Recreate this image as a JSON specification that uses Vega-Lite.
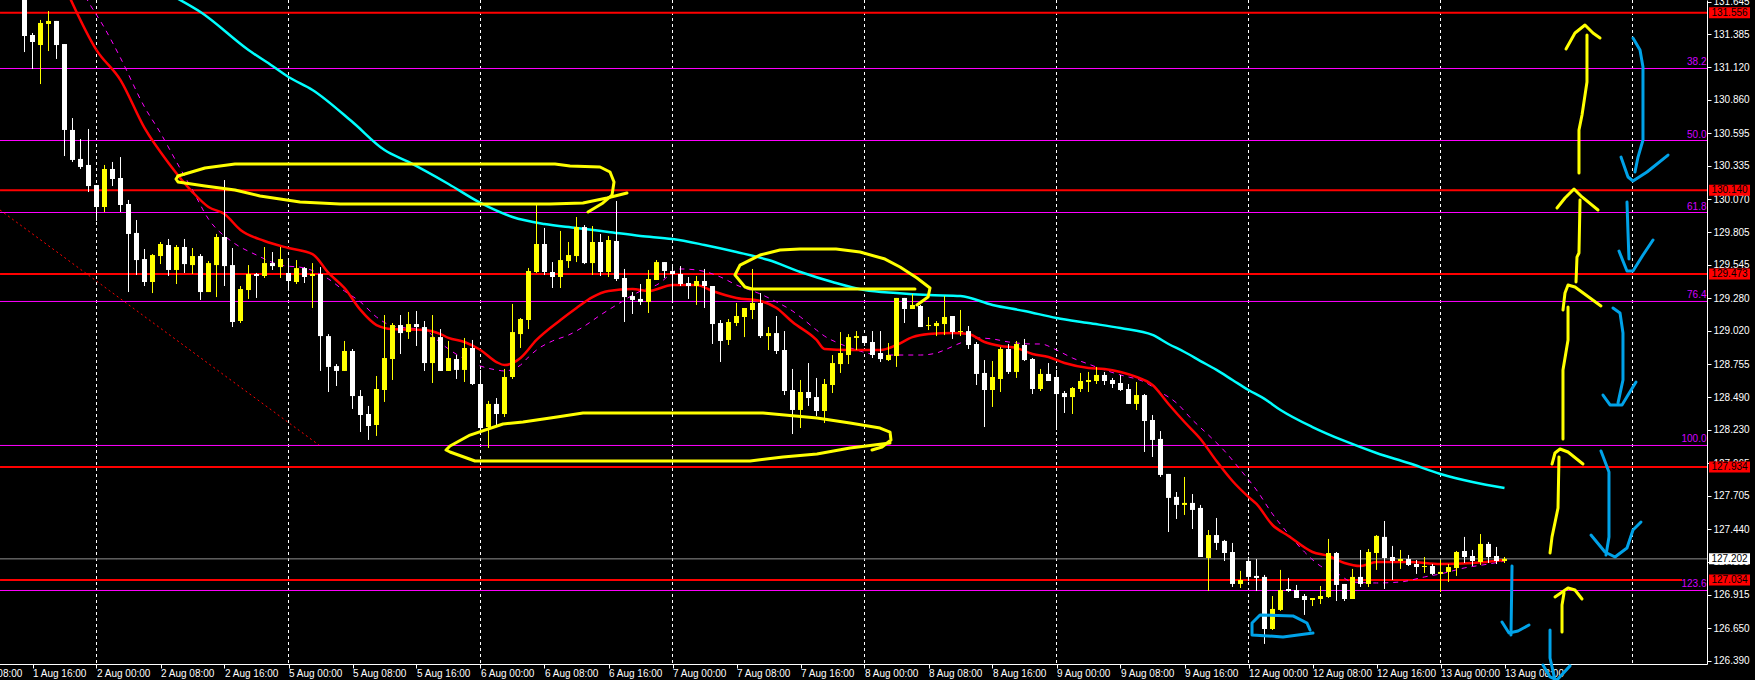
{"$schema":"https://vega.github.io/schema/vega-lite/v6.json","width":1707,"height":664,"autosize":{"type":"none"},"padding":{"left":0,"top":0,"right":48,"bottom":16},"background":"#000000","config":{"view":{"stroke":null},"text":{"font":"Liberation Sans"}},"resolve":{"axis":{"x":"independent","y":"independent"}},
"datasets":{
"candles":[
{"i":3,"o":131.816,"h":131.896,"l":131.242,"c":131.37},{"i":4,"o":131.378,"h":131.394,"l":131.107,"c":131.322},{"i":5,"o":131.298,"h":131.498,"l":130.987,"c":131.474},{"i":6,"o":131.466,"h":131.569,"l":131.25,"c":131.49},{"i":7,"o":131.49,"h":131.49,"l":131.187,"c":131.298},{"i":8,"o":131.306,"h":131.306,"l":130.413,"c":130.621},{"i":9,"o":130.621,"h":130.716,"l":130.366,"c":130.382},{"i":10,"o":130.39,"h":130.549,"l":130.31,"c":130.326},{"i":11,"o":130.342,"h":130.629,"l":130.126,"c":130.174},{"i":12,"o":130.182,"h":130.182,"l":129.895,"c":130.007},{"i":13,"o":130.007,"h":130.342,"l":129.967,"c":130.31},{"i":14,"o":130.31,"h":130.366,"l":130.174,"c":130.23},{"i":15,"o":130.238,"h":130.405,"l":129.967,"c":130.023},{"i":16,"o":130.031,"h":130.063,"l":129.329,"c":129.792},{"i":17,"o":129.8,"h":129.903,"l":129.465,"c":129.584},{"i":18,"o":129.592,"h":129.672,"l":129.377,"c":129.409},{"i":19,"o":129.409,"h":129.632,"l":129.321,"c":129.624},{"i":20,"o":129.616,"h":129.728,"l":129.552,"c":129.712},{"i":21,"o":129.704,"h":129.752,"l":129.457,"c":129.505},{"i":22,"o":129.505,"h":129.704,"l":129.393,"c":129.688},{"i":23,"o":129.688,"h":129.752,"l":129.481,"c":129.552},{"i":24,"o":129.544,"h":129.68,"l":129.473,"c":129.616},{"i":25,"o":129.616,"h":129.632,"l":129.266,"c":129.329},{"i":26,"o":129.329,"h":129.576,"l":129.329,"c":129.56},{"i":27,"o":129.544,"h":129.792,"l":129.289,"c":129.768},{"i":28,"o":129.768,"h":130.222,"l":129.377,"c":129.536},{"i":29,"o":129.544,"h":129.68,"l":129.05,"c":129.09},{"i":30,"o":129.098,"h":129.377,"l":129.082,"c":129.353},{"i":31,"o":129.345,"h":129.544,"l":129.274,"c":129.473},{"i":32,"o":129.473,"h":129.481,"l":129.282,"c":129.457},{"i":33,"o":129.457,"h":129.688,"l":129.441,"c":129.56},{"i":34,"o":129.56,"h":129.648,"l":129.505,"c":129.536},{"i":35,"o":129.528,"h":129.688,"l":129.441,"c":129.592},{"i":36,"o":129.481,"h":129.584,"l":129.361,"c":129.417},{"i":37,"o":129.409,"h":129.584,"l":129.393,"c":129.52},{"i":38,"o":129.52,"h":129.528,"l":129.401,"c":129.449},{"i":39,"o":129.457,"h":129.56,"l":129.202,"c":129.473},{"i":40,"o":129.473,"h":129.528,"l":128.7,"c":128.978},
{"i":41,"o":128.978,"h":128.994,"l":128.532,"c":128.732},{"i":42,"o":128.739,"h":128.755,"l":128.58,"c":128.7},{"i":43,"o":128.7,"h":128.939,"l":128.7,"c":128.859},{"i":44,"o":128.859,"h":128.875,"l":128.397,"c":128.5},{"i":45,"o":128.5,"h":128.548,"l":128.213,"c":128.349},{"i":46,"o":128.357,"h":128.421,"l":128.15,"c":128.261},{"i":47,"o":128.269,"h":128.66,"l":128.182,"c":128.556},{"i":48,"o":128.548,"h":129.146,"l":128.453,"c":128.803},{"i":49,"o":128.795,"h":129.082,"l":128.628,"c":129.066},{"i":50,"o":129.066,"h":129.146,"l":128.835,"c":129.002},{"i":51,"o":129.01,"h":129.17,"l":128.955,"c":129.074},{"i":52,"o":129.074,"h":129.178,"l":128.899,"c":129.05},{"i":53,"o":129.05,"h":129.098,"l":128.7,"c":128.763},{"i":54,"o":128.763,"h":129.146,"l":128.604,"c":128.97},{"i":55,"o":128.97,"h":129.034,"l":128.7,"c":128.7},{"i":56,"o":128.7,"h":128.939,"l":128.7,"c":128.803},{"i":57,"o":128.795,"h":128.827,"l":128.636,"c":128.708},{"i":58,"o":128.708,"h":128.963,"l":128.612,"c":128.883},{"i":59,"o":128.883,"h":128.947,"l":128.588,"c":128.596},{"i":60,"o":128.596,"h":128.708,"l":128.205,"c":128.245},{"i":61,"o":128.253,"h":128.461,"l":128.086,"c":128.437},{"i":62,"o":128.437,"h":128.484,"l":128.269,"c":128.357},{"i":63,"o":128.357,"h":128.716,"l":128.333,"c":128.652},{"i":64,"o":128.652,"h":129.234,"l":128.636,"c":129.01},{"i":65,"o":128.994,"h":129.122,"l":128.883,"c":129.114},{"i":66,"o":129.106,"h":129.521,"l":129.034,"c":129.497},{"i":67,"o":129.489,"h":130.039,"l":129.481,"c":129.712},{"i":68,"o":129.712,"h":129.84,"l":129.465,"c":129.489},{"i":69,"o":129.489,"h":129.568,"l":129.361,"c":129.449},{"i":70,"o":129.449,"h":129.816,"l":129.361,"c":129.584},{"i":71,"o":129.576,"h":129.728,"l":129.521,"c":129.624},{"i":72,"o":129.616,"h":129.927,"l":129.568,"c":129.847},{"i":73,"o":129.847,"h":129.863,"l":129.552,"c":129.56},{"i":74,"o":129.56,"h":129.855,"l":129.465,"c":129.728},{"i":75,"o":129.728,"h":129.792,"l":129.457,"c":129.489},{"i":76,"o":129.489,"h":129.776,"l":129.449,"c":129.744},{"i":77,"o":129.736,"h":130.055,"l":129.417,"c":129.433},{"i":78,"o":129.441,"h":129.513,"l":129.09,"c":129.289},{"i":79,"o":129.297,"h":129.329,"l":129.154,"c":129.266},{"i":80,"o":129.274,"h":129.393,"l":129.226,"c":129.25},
{"i":81,"o":129.25,"h":129.505,"l":129.162,"c":129.433},{"i":82,"o":129.425,"h":129.584,"l":129.425,"c":129.568},{"i":83,"o":129.568,"h":129.568,"l":129.441,"c":129.497},{"i":84,"o":129.497,"h":129.544,"l":129.25,"c":129.473},{"i":85,"o":129.473,"h":129.536,"l":129.377,"c":129.393},{"i":86,"o":129.401,"h":129.449,"l":129.274,"c":129.377},{"i":87,"o":129.377,"h":129.457,"l":129.226,"c":129.417},{"i":88,"o":129.417,"h":129.513,"l":129.202,"c":129.377},{"i":89,"o":129.377,"h":129.377,"l":128.915,"c":129.074},{"i":90,"o":129.082,"h":129.106,"l":128.771,"c":128.939},{"i":91,"o":128.947,"h":129.114,"l":128.907,"c":129.09},{"i":92,"o":129.082,"h":129.242,"l":129.058,"c":129.138},{"i":93,"o":129.13,"h":129.202,"l":128.97,"c":129.202},{"i":94,"o":129.186,"h":129.513,"l":129.114,"c":129.242},{"i":95,"o":129.242,"h":129.321,"l":128.963,"c":128.978},{"i":96,"o":128.978,"h":129.05,"l":128.867,"c":129.002},{"i":97,"o":129.002,"h":129.138,"l":128.835,"c":128.859},{"i":98,"o":128.867,"h":129.018,"l":128.508,"c":128.54},{"i":99,"o":128.548,"h":128.716,"l":128.197,"c":128.389},{"i":100,"o":128.389,"h":128.628,"l":128.245,"c":128.532},{"i":101,"o":128.532,"h":128.763,"l":128.421,"c":128.484},{"i":102,"o":128.492,"h":128.644,"l":128.341,"c":128.381},{"i":103,"o":128.381,"h":128.636,"l":128.285,"c":128.596},{"i":104,"o":128.588,"h":128.827,"l":128.524,"c":128.763},{"i":105,"o":128.755,"h":129.01,"l":128.684,"c":128.843},{"i":106,"o":128.827,"h":128.994,"l":128.755,"c":128.97},{"i":107,"o":128.963,"h":129.018,"l":128.867,"c":128.978},{"i":108,"o":128.978,"h":128.978,"l":128.899,"c":128.923},{"i":109,"o":128.931,"h":129.018,"l":128.803,"c":128.827},{"i":110,"o":128.843,"h":129.018,"l":128.771,"c":128.795},{"i":111,"o":128.787,"h":128.923,"l":128.779,"c":128.827},{"i":112,"o":128.819,"h":129.282,"l":128.732,"c":129.282},{"i":113,"o":129.282,"h":129.282,"l":129.082,"c":129.194},{"i":114,"o":129.194,"h":129.313,"l":129.194,"c":129.226},{"i":115,"o":129.218,"h":129.226,"l":129.05,"c":129.05},{"i":116,"o":129.058,"h":129.13,"l":129.026,"c":129.066},{"i":117,"o":129.058,"h":129.098,"l":128.978,"c":129.082},{"i":118,"o":129.074,"h":129.297,"l":128.986,"c":129.13},{"i":119,"o":129.138,"h":129.138,"l":128.955,"c":129.01},{"i":120,"o":129.01,"h":129.186,"l":128.978,"c":129.018},
{"i":121,"o":129.018,"h":129.058,"l":128.875,"c":128.907},{"i":122,"o":128.915,"h":128.931,"l":128.588,"c":128.676},{"i":123,"o":128.684,"h":128.787,"l":128.253,"c":128.548},{"i":124,"o":128.548,"h":128.779,"l":128.413,"c":128.652},{"i":125,"o":128.636,"h":128.891,"l":128.532,"c":128.875},{"i":126,"o":128.875,"h":128.915,"l":128.676,"c":128.692},{"i":127,"o":128.692,"h":128.939,"l":128.644,"c":128.915},{"i":128,"o":128.907,"h":128.955,"l":128.779,"c":128.787},{"i":129,"o":128.795,"h":128.803,"l":128.516,"c":128.556},{"i":130,"o":128.556,"h":128.716,"l":128.54,"c":128.676},{"i":131,"o":128.676,"h":128.763,"l":128.62,"c":128.62},{"i":132,"o":128.652,"h":128.708,"l":128.229,"c":128.516},{"i":133,"o":128.524,"h":128.54,"l":128.365,"c":128.492},{"i":134,"o":128.492,"h":128.572,"l":128.357,"c":128.564},{"i":135,"o":128.556,"h":128.684,"l":128.532,"c":128.62},{"i":136,"o":128.612,"h":128.692,"l":128.532,"c":128.628},{"i":137,"o":128.62,"h":128.732,"l":128.596,"c":128.668},{"i":138,"o":128.668,"h":128.692,"l":128.588,"c":128.62},{"i":139,"o":128.628,"h":128.644,"l":128.564,"c":128.596},{"i":140,"o":128.604,"h":128.668,"l":128.54,"c":128.548},{"i":141,"o":128.556,"h":128.596,"l":128.437,"c":128.437},{"i":142,"o":128.437,"h":128.612,"l":128.389,"c":128.508},{"i":143,"o":128.508,"h":128.516,"l":128.054,"c":128.301},{"i":144,"o":128.309,"h":128.349,"l":128.014,"c":128.15},{"i":145,"o":128.158,"h":128.221,"l":127.855,"c":127.871},{"i":146,"o":127.879,"h":127.879,"l":127.416,"c":127.688},{"i":147,"o":127.696,"h":127.735,"l":127.52,"c":127.632},{"i":148,"o":127.632,"h":127.855,"l":127.552,"c":127.648},{"i":149,"o":127.648,"h":127.719,"l":127.44,"c":127.592},{"i":150,"o":127.608,"h":127.632,"l":127.217,"c":127.217},{"i":151,"o":127.209,"h":127.432,"l":126.946,"c":127.392},{"i":152,"o":127.392,"h":127.528,"l":127.273,"c":127.329},{"i":153,"o":127.345,"h":127.353,"l":127.185,"c":127.249},{"i":154,"o":127.257,"h":127.329,"l":126.978,"c":127.002},{"i":155,"o":127.002,"h":127.106,"l":126.97,"c":127.034},{"i":156,"o":127.185,"h":127.217,"l":127.026,"c":127.058},{"i":157,"o":127.066,"h":127.201,"l":126.946,"c":127.05},{"i":158,"o":127.058,"h":127.074,"l":126.524,"c":126.643},{"i":159,"o":126.643,"h":126.906,"l":126.635,"c":126.803},{"i":160,"o":126.795,"h":127.114,"l":126.787,"c":126.954},
{"i":161,"o":126.962,"h":127.05,"l":126.938,"c":126.946},{"i":162,"o":126.954,"h":126.994,"l":126.89,"c":126.89},{"i":163,"o":126.906,"h":126.922,"l":126.755,"c":126.874},{"i":164,"o":126.874,"h":126.89,"l":126.826,"c":126.89},{"i":165,"o":126.882,"h":126.986,"l":126.842,"c":126.906},{"i":166,"o":126.898,"h":127.361,"l":126.89,"c":127.249},{"i":167,"o":127.249,"h":127.257,"l":126.866,"c":126.994},{"i":168,"o":127.002,"h":127.002,"l":126.866,"c":126.882},{"i":169,"o":126.882,"h":127.122,"l":126.882,"c":127.058},{"i":170,"o":127.058,"h":127.273,"l":126.978,"c":127.002},{"i":171,"o":127.002,"h":127.281,"l":126.978,"c":127.257},{"i":172,"o":127.249,"h":127.392,"l":127.114,"c":127.385},{"i":173,"o":127.377,"h":127.504,"l":126.962,"c":127.209},{"i":174,"o":127.217,"h":127.305,"l":127.034,"c":127.185},{"i":175,"o":127.185,"h":127.273,"l":127.122,"c":127.201},{"i":176,"o":127.201,"h":127.233,"l":127.145,"c":127.153},{"i":177,"o":127.161,"h":127.193,"l":127.082,"c":127.137},{"i":178,"o":127.137,"h":127.217,"l":127.09,"c":127.145},{"i":179,"o":127.145,"h":127.161,"l":127.074,"c":127.082},{"i":180,"o":127.082,"h":127.193,"l":126.938,"c":127.098},{"i":181,"o":127.098,"h":127.161,"l":127.018,"c":127.137},{"i":182,"o":127.129,"h":127.265,"l":127.066,"c":127.257},{"i":183,"o":127.265,"h":127.377,"l":127.169,"c":127.217},{"i":184,"o":127.225,"h":127.273,"l":127.145,"c":127.185},{"i":185,"o":127.177,"h":127.4,"l":127.153,"c":127.321},{"i":186,"o":127.321,"h":127.337,"l":127.169,"c":127.217},{"i":187,"o":127.225,"h":127.297,"l":127.161,"c":127.185},{"i":188,"o":127.185,"h":127.217,"l":127.169,"c":127.202}],
"cyanMA":[{"i":22,"v":131.673},{"i":25,"v":131.561},{"i":31,"v":131.258},{"i":34,"v":131.131},{"i":36,"v":131.043},{"i":39,"v":130.94},{"i":44,"v":130.684},{"i":48,"v":130.461},{"i":51,"v":130.366},{"i":56,"v":130.19},{"i":60,"v":130.039},{"i":64,"v":129.927},{"i":68,"v":129.871},{"i":72,"v":129.84},{"i":76,"v":129.808},{"i":80,"v":129.776},{"i":84,"v":129.752},{"i":88,"v":129.704},{"i":92,"v":129.648},{"i":96,"v":129.584},{"i":100,"v":129.489},{"i":104,"v":129.409},{"i":108,"v":129.345},{"i":112,"v":129.321},{"i":116,"v":129.305},{"i":120,"v":129.297},{"i":124,"v":129.226},{"i":128,"v":129.178},{"i":132,"v":129.122},{"i":136,"v":129.082},{"i":140,"v":129.042},{"i":144,"v":128.987},{"i":146,"v":128.915},{"i":148,"v":128.851},{"i":150,"v":128.779},{"i":152,"v":128.708},{"i":154,"v":128.628},{"i":156,"v":128.548},{"i":158,"v":128.477},{"i":160,"v":128.389},{"i":164,"v":128.253},{"i":168,"v":128.142},{"i":172,"v":128.046},{"i":176,"v":127.966},{"i":180,"v":127.879},{"i":184,"v":127.815},{"i":188,"v":127.767}],
"redMA":[{"i":8,"v":131.769},{"i":12,"v":131.258},{"i":15,"v":131.019},{"i":18,"v":130.637},{"i":21,"v":130.358},{"i":24,"v":130.126},{"i":26,"v":130.007},{"i":28,"v":129.951},{"i":30,"v":129.824},{"i":33,"v":129.736},{"i":36,"v":129.68},{"i":39,"v":129.632},{"i":41,"v":129.481},{"i":43,"v":129.361},{"i":45,"v":129.186},{"i":47,"v":129.066},{"i":49,"v":129.034},{"i":53,"v":129.026},{"i":55,"v":128.994},{"i":56,"v":128.963},{"i":58,"v":128.931},{"i":60,"v":128.867},{"i":62,"v":128.771},{"i":63,"v":128.747},{"i":65,"v":128.803},{"i":67,"v":128.947},{"i":70,"v":129.106},{"i":72,"v":129.202},{"i":74,"v":129.289},{"i":76,"v":129.337},{"i":79,"v":129.353},{"i":81,"v":129.337},{"i":84,"v":129.385},{"i":87,"v":129.385},{"i":89,"v":129.337},{"i":92,"v":129.282},{"i":95,"v":129.258},{"i":97,"v":129.202},{"i":99,"v":129.09},{"i":102,"v":128.947},{"i":103,"v":128.875},{"i":106,"v":128.867},{"i":110,"v":128.867},{"i":112,"v":128.907},{"i":114,"v":128.97},{"i":116,"v":128.994},{"i":119,"v":129.002},{"i":121,"v":128.994},{"i":123,"v":128.931},{"i":125,"v":128.899},{"i":127,"v":128.883},{"i":129,"v":128.835},{"i":131,"v":128.811},{"i":133,"v":128.763},{"i":136,"v":128.724},{"i":138,"v":128.716},{"i":140,"v":128.692},{"i":142,"v":128.652},{"i":144,"v":128.588},{"i":146,"v":128.437},{"i":148,"v":128.293},{"i":150,"v":128.158},{"i":152,"v":127.982},{"i":154,"v":127.823},{"i":156,"v":127.696},{"i":157,"v":127.64},{"i":159,"v":127.472},{"i":161,"v":127.385},{"i":164,"v":127.257},{"i":166,"v":127.225},{"i":168,"v":127.169},{"i":170,"v":127.145},{"i":172,"v":127.177},{"i":176,"v":127.177},{"i":180,"v":127.161},{"i":184,"v":127.169},{"i":188,"v":127.193}],
"magentaMA":[{"i":10,"v":131.753},{"i":11,"v":131.641},{"i":13,"v":131.434},{"i":15,"v":131.195},{"i":18,"v":130.804},{"i":20,"v":130.597},{"i":22,"v":130.366},{"i":24,"v":130.142},{"i":26,"v":129.911},{"i":29,"v":129.728},{"i":32,"v":129.624},{"i":35,"v":129.544},{"i":38,"v":129.521},{"i":41,"v":129.433},{"i":43,"v":129.337},{"i":45,"v":129.25},{"i":47,"v":129.13},{"i":49,"v":129.058},{"i":53,"v":129.026},{"i":55,"v":128.923},{"i":56,"v":128.875},{"i":60,"v":128.739},{"i":62,"v":128.708},{"i":63,"v":128.7},{"i":65,"v":128.747},{"i":66,"v":128.811},{"i":67,"v":128.867},{"i":69,"v":128.939},{"i":71,"v":128.986},{"i":73,"v":129.058},{"i":75,"v":129.146},{"i":77,"v":129.226},{"i":80,"v":129.337},{"i":82,"v":129.385},{"i":85,"v":129.513},{"i":87,"v":129.505},{"i":90,"v":129.449},{"i":92,"v":129.385},{"i":95,"v":129.313},{"i":97,"v":129.25},{"i":99,"v":129.178},{"i":100,"v":129.13},{"i":102,"v":129.026},{"i":103,"v":128.978},{"i":105,"v":128.915},{"i":107,"v":128.867},{"i":110,"v":128.827},{"i":113,"v":128.827},{"i":115,"v":128.827},{"i":117,"v":128.843},{"i":118,"v":128.867},{"i":120,"v":128.923},{"i":122,"v":128.963},{"i":124,"v":128.955},{"i":126,"v":128.931},{"i":129,"v":128.915},{"i":130,"v":128.915},{"i":132,"v":128.867},{"i":134,"v":128.803},{"i":136,"v":128.755},{"i":138,"v":128.708},{"i":140,"v":128.668},{"i":143,"v":128.612},{"i":145,"v":128.532},{"i":147,"v":128.445},{"i":149,"v":128.309},{"i":151,"v":128.189},{"i":153,"v":128.062},{"i":155,"v":127.911},{"i":157,"v":127.751},{"i":159,"v":127.56},{"i":161,"v":127.4},{"i":163,"v":127.257},{"i":165,"v":127.145},{"i":167,"v":127.09},{"i":169,"v":127.018},{"i":172,"v":127.01},{"i":175,"v":127.018},{"i":178,"v":127.058},{"i":180,"v":127.082},{"i":183,"v":127.13},{"i":186,"v":127.161},{"i":188,"v":127.185}],
"grid":[{"i":12},{"i":36},{"i":60},{"i":84},{"i":108},{"i":132},{"i":156},{"i":180},{"i":204}],
"fib":[{"pct":"38.2","p":131.111},{"pct":"50.0","p":130.537},{"pct":"61.8","p":129.963},{"pct":"76.4","p":129.254},{"pct":"100.0","p":128.106},{"pct":"123.6","p":126.95}],
"levels":[{"p":131.556,"start":-0.06,"end":213.3125},{"p":130.14,"start":-0.06,"end":213.3125},{"p":129.473,"start":-0.06,"end":213.3125},{"p":127.934,"start":-0.06,"end":213.3125},{"p":127.034,"start":-0.06,"end":210.2}],
"trend":[{"i":-0.06,"v":129.983},{"i":39.8,"v":128.11}],
"yellowInk":[
{"s":"E1a","i":22.19,"p":130.254},{"s":"E1a","i":25.56,"p":130.318},{"s":"E1a","i":29.31,"p":130.35},{"s":"E1a","i":42.44,"p":130.35},{"s":"E1a","i":56.19,"p":130.35},{"s":"E1a","i":69.31,"p":130.35},{"s":"E1a","i":71.19,"p":130.334},{"s":"E1a","i":74.94,"p":130.326},{"s":"E1a","i":76.19,"p":130.286},{"s":"E1a","i":76.69,"p":130.206},{"s":"E1a","i":76.44,"p":130.102},{"s":"E1a","i":75.31,"p":130.039},{"s":"E1a","i":73.44,"p":129.967},
{"s":"E1b","i":78.31,"p":130.118},{"s":"E1b","i":75.81,"p":130.079},{"s":"E1b","i":72.81,"p":130.039},{"s":"E1b","i":68.69,"p":130.031},{"s":"E1b","i":56.19,"p":130.031},{"s":"E1b","i":42.44,"p":130.031},{"s":"E1b","i":37.44,"p":130.047},{"s":"E1b","i":32.44,"p":130.095},{"s":"E1b","i":29.31,"p":130.142},{"s":"E1b","i":25.56,"p":130.174},{"s":"E1b","i":22.19,"p":130.206},{"s":"E1b","i":21.94,"p":130.23},{"s":"E1b","i":22.19,"p":130.254},
{"s":"E2","i":114.56,"p":129.226},{"s":"E2","i":115.94,"p":129.289},{"s":"E2","i":116.19,"p":129.361},{"s":"E2","i":114.56,"p":129.441},{"s":"E2","i":112.44,"p":129.529},{"s":"E2","i":110.56,"p":129.592},{"s":"E2","i":107.44,"p":129.648},{"s":"E2","i":104.44,"p":129.672},{"s":"E2","i":99.94,"p":129.672},{"s":"E2","i":97.44,"p":129.664},{"s":"E2","i":94.94,"p":129.624},{"s":"E2","i":92.44,"p":129.544},{"s":"E2","i":91.81,"p":129.465},{"s":"E2","i":93.06,"p":129.369},{"s":"E2","i":93.94,"p":129.353},{"s":"E2","i":114.31,"p":129.353},
{"s":"E3","i":111.19,"p":128.126},{"s":"E3","i":106.19,"p":128.086},{"s":"E3","i":102.06,"p":128.038},{"s":"E3","i":97.81,"p":128.014},{"s":"E3","i":93.69,"p":127.982},{"s":"E3","i":59.31,"p":127.982},{"s":"E3","i":56.19,"p":128.054},{"s":"E3","i":55.69,"p":128.07},{"s":"E3","i":56.19,"p":128.102},{"s":"E3","i":58.69,"p":128.189},{"s":"E3","i":62.81,"p":128.277},{"s":"E3","i":65.31,"p":128.293},{"s":"E3","i":69.56,"p":128.333},{"s":"E3","i":72.81,"p":128.365},{"s":"E3","i":95.31,"p":128.365},{"s":"E3","i":102.06,"p":128.325},{"s":"E3","i":106.19,"p":128.285},{"s":"E3","i":109.94,"p":128.245},{"s":"E3","i":111.19,"p":128.213},{"s":"E3","i":111.31,"p":128.15},{"s":"E3","i":110.19,"p":128.094},{"s":"E3","i":108.94,"p":128.07},
{"s":"A1s","i":197.31,"p":130.278},{"s":"A1s","i":197.31,"p":130.621},{"s":"A1s","i":197.69,"p":130.74},{"s":"A1s","i":198.31,"p":131.003},{"s":"A1s","i":198.31,"p":131.378},
{"s":"A1h","i":195.69,"p":131.266},{"s":"A1h","i":196.81,"p":131.394},{"s":"A1h","i":198.06,"p":131.458},{"s":"A1h","i":199.06,"p":131.394},{"s":"A1h","i":199.94,"p":131.354},
{"s":"A2s","i":197.44,"p":130.063},{"s":"A2s","i":197.31,"p":129.64},{"s":"A2s","i":197.06,"p":129.608},{"s":"A2s","i":196.94,"p":129.409},
{"s":"A2h","i":194.56,"p":129.999},{"s":"A2h","i":195.56,"p":130.079},{"s":"A2h","i":196.69,"p":130.15},{"s":"A2h","i":197.69,"p":130.087},{"s":"A2h","i":199.69,"p":129.983},
{"s":"A3s","i":195.94,"p":129.21},{"s":"A3s","i":195.94,"p":128.947},{"s":"A3s","i":195.31,"p":128.708},{"s":"A3s","i":195.31,"p":128.158},
{"s":"A3h","i":195.31,"p":129.186},{"s":"A3h","i":195.56,"p":129.321},{"s":"A3h","i":195.94,"p":129.385},{"s":"A3h","i":196.81,"p":129.369},{"s":"A3h","i":198.69,"p":129.282},{"s":"A3h","i":200.06,"p":129.218},
{"s":"A4s","i":194.81,"p":128.014},{"s":"A4s","i":194.69,"p":127.608},{"s":"A4s","i":193.94,"p":127.377},{"s":"A4s","i":193.69,"p":127.249},
{"s":"A4h","i":193.94,"p":127.958},{"s":"A4h","i":194.31,"p":128.046},{"s":"A4h","i":194.94,"p":128.078},{"s":"A4h","i":195.94,"p":128.054},{"s":"A4h","i":197.81,"p":127.958},
{"s":"A5s","i":195.19,"p":126.619},{"s":"A5s","i":195.19,"p":126.834},{"s":"A5s","i":195.44,"p":126.93},
{"s":"A5h","i":194.31,"p":126.898},{"s":"A5h","i":195.94,"p":126.97},{"s":"A5h","i":196.81,"p":126.954},{"s":"A5h","i":197.69,"p":126.882}],
"blueInk":[
{"s":"B1s","i":204.06,"p":131.354},{"s":"B1s","i":204.94,"p":131.258},{"s":"B1s","i":205.31,"p":131.123},{"s":"B1s","i":205.31,"p":130.541},{"s":"B1s","i":204.69,"p":130.405},{"s":"B1s","i":204.31,"p":130.286},
{"s":"B1h","i":202.56,"p":130.405},{"s":"B1h","i":203.44,"p":130.246},{"s":"B1h","i":204.06,"p":130.214},{"s":"B1h","i":205.81,"p":130.286},{"s":"B1h","i":208.44,"p":130.421},
{"s":"B2s","i":203.31,"p":130.047},{"s":"B2s","i":203.44,"p":129.8},{"s":"B2s","i":203.56,"p":129.592},
{"s":"B2h","i":202.31,"p":129.656},{"s":"B2h","i":203.31,"p":129.497},{"s":"B2h","i":204.06,"p":129.497},{"s":"B2h","i":205.31,"p":129.624},{"s":"B2h","i":206.56,"p":129.744},
{"s":"B3s","i":201.56,"p":129.202},{"s":"B3s","i":202.44,"p":129.162},{"s":"B3s","i":202.81,"p":129.002},{"s":"B3s","i":202.81,"p":128.628},{"s":"B3s","i":202.19,"p":128.445},
{"s":"B3h","i":200.31,"p":128.508},{"s":"B3h","i":201.19,"p":128.429},{"s":"B3h","i":202.69,"p":128.429},{"s":"B3h","i":203.44,"p":128.508},{"s":"B3h","i":204.44,"p":128.612},
{"s":"B4s","i":200.06,"p":128.062},{"s":"B4s","i":201.06,"p":127.895},{"s":"B4s","i":201.06,"p":127.377},{"s":"B4s","i":200.69,"p":127.233},
{"s":"B4h","i":198.81,"p":127.392},{"s":"B4h","i":200.56,"p":127.257},{"s":"B4h","i":201.81,"p":127.217},{"s":"B4h","i":203.31,"p":127.289},{"s":"B4h","i":204.06,"p":127.432},{"s":"B4h","i":205.06,"p":127.496},
{"s":"B5s","i":188.94,"p":127.145},{"s":"B5s","i":188.81,"p":126.595},
{"s":"B5h","i":187.69,"p":126.699},{"s":"B5h","i":188.56,"p":126.611},{"s":"B5h","i":189.69,"p":126.627},{"s":"B5h","i":191.06,"p":126.675},
{"s":"B6s","i":193.69,"p":126.635},{"s":"B6s","i":193.69,"p":126.412},{"s":"B6s","i":194.31,"p":126.237},
{"s":"B6h","i":192.81,"p":126.356},{"s":"B6h","i":193.69,"p":126.261},{"s":"B6h","i":194.56,"p":126.237},{"s":"B6h","i":196.19,"p":126.349},
{"s":"B7","i":163.69,"p":126.635},{"s":"B7","i":163.31,"p":126.691},{"s":"B7","i":161.56,"p":126.747},{"s":"B7","i":157.44,"p":126.755},{"s":"B7","i":156.44,"p":126.691},{"s":"B7","i":156.44,"p":126.596},{"s":"B7","i":160.31,"p":126.58},{"s":"B7","i":164.06,"p":126.611}],
"redTags":[{"p":131.556,"t":"131.556"},{"p":130.14,"t":"130.140"},{"p":129.473,"t":"129.473"},{"p":127.934,"t":"127.934"},{"p":127.034,"t":"127.034"}],
"whiteTag":[{"p":127.202,"t":"127.202"}]
},
"layer":[
{"data":{"name":"grid"},"mark":{"type":"rule","color":"#ffffff","strokeWidth":1,"strokeDash":[3,3]},"encoding":{"x":{"field":"i","type":"quantitative","scale":{"domain":[-4,213.3125],"range":[-31.5,1707],"nice":false,"zero":false},"axis":{"title":null,"orient":"bottom","values":[-4,4,12,20,28,36,44,52,60,68,76,84,92,100,108,116,124,132,140,148,156,164,172,180,188],"labelExpr":"['1 Aug 08:00','1 Aug 16:00','2 Aug 00:00','2 Aug 08:00','2 Aug 16:00','5 Aug 00:00','5 Aug 08:00','5 Aug 16:00','6 Aug 00:00','6 Aug 08:00','6 Aug 16:00','7 Aug 00:00','7 Aug 08:00','7 Aug 16:00','8 Aug 00:00','8 Aug 08:00','8 Aug 16:00','9 Aug 00:00','9 Aug 08:00','9 Aug 16:00','12 Aug 00:00','12 Aug 08:00','12 Aug 16:00','13 Aug 00:00','13 Aug 08:00'][(datum.value+4)/8]","labelAlign":"left","labelBaseline":"top","labelPadding":0,"labelBound":false,"labelFlush":false,"labelOverlap":false,"labelColor":"#ffffff","labelFont":"Liberation Sans","labelFontSize":10,"tickColor":"#ffffff","tickSize":4,"domainColor":"#ffffff","grid":false}}}},
{"data":{"name":"fib"},"mark":{"type":"rule","color":"#ff00ff","strokeWidth":1},"encoding":{"y":{"field":"p","type":"quantitative","scale":{"domain":[126.364,131.657],"nice":false,"zero":false},"axis":{"title":null,"orient":"right","values":[131.645,131.385,131.12,130.86,130.595,130.335,130.07,129.805,129.545,129.28,129.02,128.755,128.49,128.23,127.965,127.705,127.44,127.18,126.915,126.65,126.39],"format":".3f","labelPadding":2,"labelBound":false,"labelFlush":false,"labelOverlap":false,"labelColor":"#ffffff","labelFont":"Liberation Sans","labelFontSize":10,"tickColor":"#ffffff","tickSize":4,"domainColor":"#ffffff","grid":false}}}},
{"data":{"name":"trend"},"mark":{"type":"line","color":"#ff0000","strokeWidth":1,"strokeDash":[2,3]},"encoding":{"x":{"field":"i","type":"quantitative","axis":null},"y":{"field":"v","type":"quantitative","axis":null}}},
{"data":{"name":"whiteTag"},"mark":{"type":"rule","color":"#909090","strokeWidth":1},"encoding":{"y":{"field":"p","type":"quantitative","axis":null}}},
{"data":{"name":"levels"},"mark":{"type":"rule","color":"#ff0000","strokeWidth":2},"encoding":{"y":{"field":"p","type":"quantitative","axis":null},"x":{"field":"start","type":"quantitative","axis":null},"x2":{"field":"end"}}},
{"data":{"name":"cyanMA"},"mark":{"type":"line","color":"#00ffff","strokeWidth":2.5,"clip":true,"interpolate":"monotone"},"encoding":{"x":{"field":"i","type":"quantitative","axis":null},"y":{"field":"v","type":"quantitative","axis":null}}},
{"data":{"name":"magentaMA"},"mark":{"type":"line","color":"#ff00ff","strokeWidth":1,"strokeDash":[5,5],"clip":true,"interpolate":"monotone"},"encoding":{"x":{"field":"i","type":"quantitative","axis":null},"y":{"field":"v","type":"quantitative","axis":null}}},
{"data":{"name":"redMA"},"mark":{"type":"line","color":"#ff0000","strokeWidth":2.5,"clip":true,"interpolate":"monotone"},"encoding":{"x":{"field":"i","type":"quantitative","axis":null},"y":{"field":"v","type":"quantitative","axis":null}}},
{"data":{"name":"candles"},"mark":{"type":"rule","strokeWidth":1,"clip":true},"encoding":{"x":{"field":"i","type":"quantitative","axis":null},"y":{"field":"h","type":"quantitative","axis":null},"y2":{"field":"l"},"color":{"condition":{"test":"datum.c>=datum.o","value":"#ffff00"},"value":"#ffffff"}}},
{"data":{"name":"candles"},"mark":{"type":"rule","strokeWidth":5,"clip":true},"encoding":{"x":{"field":"i","type":"quantitative","axis":null},"y":{"field":"o","type":"quantitative","axis":null},"y2":{"field":"c"},"color":{"condition":{"test":"datum.c>=datum.o","value":"#ffff00"},"value":"#ffffff"}}},
{"data":{"name":"fib"},"mark":{"type":"text","color":"#d400ff","align":"right","baseline":"middle","dy":-6,"fontSize":10,"font":"Liberation Sans"},"encoding":{"x":{"datum":213.25,"type":"quantitative","axis":null},"y":{"field":"p","type":"quantitative","axis":null},"text":{"field":"pct"}}},
{"data":{"name":"redTags"},"mark":{"type":"rect","color":"#ff0000","width":41,"height":11},"encoding":{"x":{"datum":216.125,"type":"quantitative","axis":null},"y":{"field":"p","type":"quantitative","axis":null}}},
{"data":{"name":"whiteTag"},"mark":{"type":"rect","color":"#ffffff","width":41,"height":11},"encoding":{"x":{"datum":216.125,"type":"quantitative","axis":null},"y":{"field":"p","type":"quantitative","axis":null}}},
{"data":{"name":"redTags"},"mark":{"type":"text","color":"#000000","align":"center","baseline":"middle","fontSize":10,"font":"Liberation Sans"},"encoding":{"x":{"datum":216.125,"type":"quantitative","axis":null},"y":{"field":"p","type":"quantitative","axis":null},"text":{"field":"t"}}},
{"data":{"name":"whiteTag"},"mark":{"type":"text","color":"#000000","align":"center","baseline":"middle","fontSize":10,"font":"Liberation Sans"},"encoding":{"x":{"datum":216.125,"type":"quantitative","axis":null},"y":{"field":"p","type":"quantitative","axis":null},"text":{"field":"t"}}},
{"data":{"name":"yellowInk"},"mark":{"type":"line","color":"#ffff00","strokeWidth":3,"strokeCap":"round","strokeJoin":"round"},"encoding":{"x":{"field":"i","type":"quantitative","axis":null},"y":{"field":"p","type":"quantitative","axis":null},"detail":{"field":"s"},"order":{"value":null}}},
{"data":{"name":"blueInk"},"mark":{"type":"line","color":"#00a2e8","strokeWidth":3,"strokeCap":"round","strokeJoin":"round"},"encoding":{"x":{"field":"i","type":"quantitative","axis":null},"y":{"field":"p","type":"quantitative","axis":null},"detail":{"field":"s"},"order":{"value":null}}}
]}
